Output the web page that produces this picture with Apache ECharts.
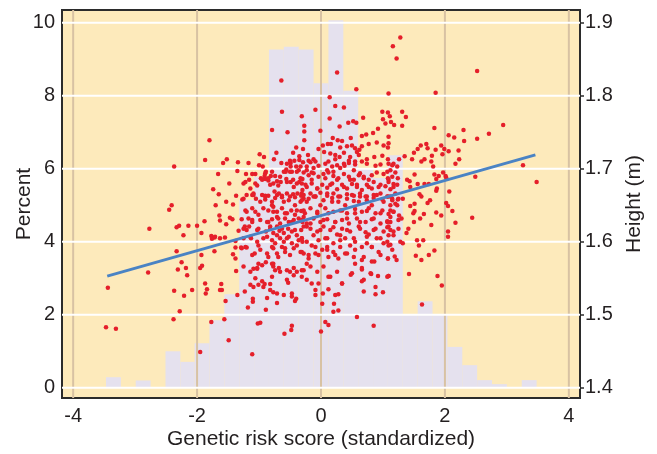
<!DOCTYPE html>
<html>
<head>
<meta charset="utf-8">
<script src="https://cdn.jsdelivr.net/npm/echarts@6/dist/echarts.min.js"></script>
<style>
  html, body { margin: 0; padding: 0; background: #fff; }
  #chart { width: 657px; height: 454px; }
</style>
</head>
<body>
<div id="chart"></div>
<script>
// histogram of the genetic risk score (left axis, percent)
var binEdges = [-3.47, -3.23, -2.99, -2.75, -2.51, -2.27, -2.04, -1.80, -1.56, -1.32, -1.08, -0.84, -0.60, -0.36, -0.12,
    0.12, 0.36, 0.60, 0.84, 1.08, 1.32, 1.56, 1.80, 2.04, 2.28, 2.52, 2.76, 3.00, 3.24, 3.48];
var binPercent = [0.29, 0, 0.2, 0, 1.0, 0.71, 1.22, 1.85, 2.56, 5.15, 5.78, 9.27, 9.34, 9.27, 8.34,
    10.07, 8.14, 6.0, 5.75, 6.37, 2.02, 2.37, 2.0, 1.12, 0.62, 0.21, 0.1, 0, 0.21];

// tick values
var xTicks = [-4, -2, 0, 2, 4];
var percentTicks = [0, 2, 4, 6, 8, 10];
var heightTicks = [1.4, 1.5, 1.6, 1.7, 1.8, 1.9];

// fitted line (risk score, height)
var fitX = [-3.45, 3.46];
var fitHeight = [1.553, 1.719];

// individuals: [risk score, height in m]
var points = [
    [-1.80,1.739],[-1.87,1.712],[-2.37,1.703],[-1.66,1.693],[-1.74,1.672],[-1.70,1.650],[-2.41,1.650],[-2.45,1.644],
    [-1.64,1.636],[-1.88,1.628],[-2.77,1.618],[-2.33,1.620],[-2.29,1.622],[-2.14,1.622],[-2.00,1.622],[-1.93,1.612],
    [-2.22,1.609],[-1.77,1.608],[-1.72,1.606],[-1.76,1.604],[-1.71,1.607],[-1.63,1.605],[-2.33,1.587],[-1.72,1.587],
    [-1.93,1.582],[-2.25,1.572],[-2.18,1.564],[-2.31,1.562],[-1.95,1.564],[-1.92,1.567],[-2.79,1.558],[-2.16,1.554],
    [-3.44,1.537],[-1.87,1.543],[-1.84,1.535],[-1.86,1.529],[-2.37,1.533],[-2.08,1.534],[-2.21,1.526],[-2.28,1.505],
    [-2.38,1.494],[-1.77,1.490],[-3.47,1.483],[-3.31,1.481],[-1.95,1.449],
    [-1.11,1.446],[-1.49,1.465],[-1.56,1.494],[-0.98,1.489],[-1.02,1.488],[-0.89,1.507],[-1.18,1.510],[-0.59,1.474],
    [-0.48,1.479],[0.00,1.477],[0.02,1.515],[-1.65,1.665],[-1.06,1.693],[-1.35,1.697],
    [-0.64,1.821],[-0.63,1.778],[-0.79,1.753],[-0.54,1.750],[-0.31,1.772],[-0.27,1.759],[-0.27,1.751],[-0.27,1.739],
    [-0.40,1.729],[-0.29,1.727],[-0.72,1.722],[-0.76,1.713],[-0.45,1.722],[-0.35,1.717],[-0.99,1.720],[-0.92,1.716],
    [-0.64,1.708],[-0.43,1.711],[-0.49,1.708],[-0.29,1.709],[-1.52,1.713],[-1.58,1.708],[-1.34,1.709],[-1.17,1.708],
    [-1.00,1.705],[-0.94,1.703],[-0.56,1.699],[-0.49,1.703],[-0.40,1.703],[-0.33,1.703],[-1.21,1.693],[-1.11,1.693],
    [-0.89,1.696],[-0.91,1.690],[-0.97,1.687],[-0.81,1.690],[-0.74,1.690],[-0.57,1.696],[-0.47,1.696],[-0.39,1.696],
    [-1.48,1.680],[-1.25,1.680],[-1.16,1.685],[-1.03,1.677],[-0.90,1.686],[-0.85,1.684],[-0.82,1.678],[-0.71,1.683],
    [-0.69,1.677],[-0.65,1.682],[-0.56,1.686],[-0.49,1.682],[-0.45,1.685],[-0.39,1.680],[-0.35,1.682],[-0.30,1.686],
    [-1.11,1.664],[-1.09,1.664],[-1.37,1.663],[-0.90,1.663],[-0.85,1.663],[-0.75,1.669],[-0.68,1.666],[-0.63,1.663],
    [-0.55,1.666],[-0.45,1.665],[-0.38,1.666],[-0.30,1.671],[-0.32,1.663],
    [-1.53,1.655],[-1.42,1.651],[-1.63,1.629],[-1.47,1.633],[-1.43,1.631],[-1.53,1.624],[-1.33,1.615],[-1.55,1.606],
    [-1.38,1.601],[-1.38,1.592],[-1.29,1.592],[-1.42,1.583],[-1.38,1.577],[-1.61,1.542],[-1.60,1.534],[-1.63,1.534],
    [-1.37,1.560],[-1.35,1.527],[-1.54,1.519],[-0.47,1.485],
    [-1.27,1.658],[-1.20,1.664],[-1.05,1.659],[-0.95,1.664],[-0.90,1.658],[-0.79,1.655],[-0.74,1.660],[-0.63,1.661],
    [-0.52,1.657],[-0.42,1.661],[-0.33,1.655],[-0.28,1.659],
    [-1.22,1.643],[-1.11,1.646],[-1.06,1.641],[-0.93,1.646],[-0.85,1.643],[-0.77,1.648],[-0.71,1.641],[-0.63,1.646],
    [-0.55,1.639],[-0.48,1.643],[-0.42,1.637],[-0.32,1.642],[-0.26,1.639],
    [-1.28,1.631],[-1.17,1.632],[-1.11,1.627],[-0.98,1.630],[-0.85,1.627],[-0.79,1.631],[-0.71,1.634],[-0.66,1.625],
    [-0.58,1.632],[-0.52,1.627],[-0.44,1.630],[-0.36,1.632],[-0.30,1.627],
    [-1.23,1.621],[-1.16,1.621],[-1.20,1.616],[-1.01,1.618],[-0.89,1.614],[-0.82,1.618],[-0.77,1.612],[-0.71,1.621],
    [-0.67,1.615],[-0.60,1.612],[-0.53,1.618],[-0.47,1.614],[-0.39,1.609],[-0.32,1.616],
    [-1.25,1.605],[-1.13,1.605],[-1.03,1.600],[-0.87,1.607],[-0.79,1.602],[-0.74,1.598],[-0.66,1.605],[-0.60,1.600],
    [-0.55,1.605],[-0.47,1.598],[-0.36,1.602],[-0.30,1.600],
    [-1.28,1.591],[-1.20,1.592],[-1.07,1.584],[-0.98,1.589],[-0.85,1.579],[-0.77,1.591],[-0.71,1.584],[-0.63,1.593],
    [-0.58,1.586],[-0.44,1.591],[-0.33,1.586],
    [-1.01,1.570],[-0.95,1.568],[-0.89,1.572],[-0.79,1.570],[-0.77,1.566],[-0.74,1.561],[-0.68,1.564],[-1.09,1.563],
    [-1.03,1.563],[-0.55,1.561],[-0.50,1.559],[-0.44,1.554],[-0.39,1.559],[-0.31,1.561],
    [-1.14,1.541],[-1.09,1.538],[-1.01,1.541],[-0.95,1.546],[-0.91,1.542],[-0.82,1.542],[-0.82,1.534],[-0.77,1.531],
    [-0.71,1.529],[-0.60,1.527],[-0.53,1.544],[-0.47,1.529],[-0.40,1.522],[-0.47,1.525],[-0.87,1.523],[-1.10,1.522],
    [-1.10,1.518],[-1.23,1.532],[-0.71,1.516],[-0.42,1.519],
    [0.26,1.832],[0.57,1.809],[1.09,1.803],[0.14,1.798],[-0.09,1.781],[0.23,1.786],[0.37,1.784],[0.14,1.769],
    [0.30,1.758],[0.44,1.763],[0.52,1.765],[-0.01,1.752],[0.19,1.742],[0.27,1.739],[0.34,1.738],[0.48,1.742],
    [0.68,1.770],[0.99,1.778],[1.00,1.768],[1.08,1.777],[0.92,1.755],[0.84,1.749],[1.09,1.744],[0.66,1.745],
    [0.73,1.747],[-0.21,1.719],[-0.04,1.727],[0.03,1.732],[0.11,1.734],[0.16,1.734],[0.31,1.729],[0.42,1.731],
    [0.50,1.732],[0.55,1.728],[0.66,1.731],[0.58,1.723],[0.77,1.734],[0.90,1.736],[1.01,1.732],[1.09,1.735],
    [0.05,1.723],[0.15,1.721],[0.23,1.719],[0.30,1.716],[0.37,1.722],[-0.12,1.713],[0.47,1.716],[0.61,1.719],
    [0.62,1.726],[0.74,1.713],[0.86,1.716],[0.99,1.718],[1.08,1.713],[0.07,1.707],[0.18,1.703],[0.26,1.705],
    [0.38,1.704],[0.45,1.708],[0.55,1.706],[0.66,1.710],[0.74,1.707],[0.88,1.704],[0.96,1.706],[1.09,1.707],
    [-0.23,1.703],[-0.12,1.701],[-0.04,1.704],[0.57,1.763],[-0.17,1.709],
    [-0.28,1.695],[-0.20,1.691],[-0.12,1.694],[-0.04,1.689],[0.04,1.693],[0.12,1.695],[0.20,1.690],[0.28,1.687],
    [0.37,1.693],[0.45,1.689],[0.53,1.685],[0.61,1.691],[0.69,1.689],[0.77,1.685],[0.82,1.691],[0.90,1.695],
    [1.01,1.693],[1.08,1.687],
    [-0.31,1.680],[-0.23,1.675],[-0.15,1.680],[-0.06,1.673],[0.02,1.678],[0.10,1.674],[0.18,1.680],[0.26,1.672],
    [0.34,1.678],[0.42,1.673],[0.50,1.679],[0.58,1.675],[0.66,1.671],[0.74,1.678],[0.82,1.673],[0.93,1.675],
    [1.04,1.676],
    [-0.28,1.664],[-0.17,1.666],[-0.09,1.662],[-0.01,1.667],[0.10,1.663],[0.20,1.666],[0.31,1.662],[0.42,1.665],
    [0.53,1.663],[0.63,1.666],[0.74,1.662],[0.85,1.664],[0.96,1.666],
    [-0.31,1.657],[-0.20,1.659],[-0.09,1.662],[0.04,1.657],[0.18,1.660],[0.28,1.655],[0.42,1.659],[0.53,1.656],
    [0.63,1.662],[0.74,1.657],[0.85,1.660],[0.99,1.658],[1.08,1.662],
    [-0.28,1.643],[-0.17,1.646],[-0.06,1.639],[0.07,1.646],[0.20,1.641],[0.31,1.643],[0.42,1.639],[0.55,1.645],
    [0.66,1.641],[0.77,1.646],[0.88,1.639],[0.99,1.643],[1.09,1.638],
    [-0.31,1.630],[-0.23,1.625],[-0.12,1.632],[-0.01,1.627],[0.10,1.631],[0.23,1.627],[0.34,1.630],[0.45,1.625],
    [0.58,1.632],[0.72,1.627],[0.82,1.631],[0.96,1.625],[1.07,1.628],
    [-0.28,1.621],[-0.17,1.618],[-0.06,1.614],[0.04,1.621],[0.15,1.616],[0.26,1.610],[0.34,1.618],[0.47,1.614],
    [0.61,1.621],[0.72,1.613],[0.77,1.610],[0.88,1.618],[1.01,1.614],[1.09,1.609],
    [-0.31,1.605],[-0.23,1.600],[-0.15,1.595],[-0.04,1.602],[0.07,1.605],[0.10,1.593],[0.20,1.598],[0.31,1.602],
    [0.39,1.605],[0.47,1.595],[0.55,1.600],[0.66,1.593],[0.74,1.598],[0.82,1.593],[0.90,1.605],[1.01,1.598],
    [1.09,1.595],
    [-0.31,1.586],[-0.20,1.582],[-0.09,1.584],[0.02,1.589],[0.12,1.579],[0.20,1.586],[0.28,1.577],[0.39,1.584],
    [0.53,1.579],[0.55,1.570],[0.66,1.575],[0.82,1.573],[0.93,1.586],[1.08,1.577],
    [-0.28,1.561],[-0.17,1.566],[-0.06,1.559],[-0.23,1.548],[-0.04,1.543],[0.15,1.552],[0.34,1.543],[0.48,1.555],
    [0.66,1.562],[0.81,1.556],[0.92,1.553],[0.86,1.573],[1.09,1.553],
    [-0.09,1.534],[-0.09,1.527],[0.03,1.529],[0.12,1.535],[0.23,1.527],[0.28,1.528],[0.69,1.548],[0.66,1.546],
    [0.69,1.532],[0.88,1.528],[1.00,1.531],[0.21,1.515],[0.28,1.506],[0.20,1.504],
    [0.58,1.497],[0.85,1.485],[0.07,1.490],[0.12,1.486],
    [1.28,1.880],[1.16,1.868],[1.22,1.851],[2.52,1.834],[1.85,1.804],[1.31,1.778],[1.37,1.771],[1.11,1.772],
    [1.13,1.764],[1.18,1.760],[1.04,1.762],[1.31,1.759],[1.83,1.756],[2.30,1.753],[2.94,1.760],[2.71,1.748],
    [2.52,1.741],[2.06,1.746],[2.15,1.743],[2.31,1.738],[1.08,1.729],[1.61,1.732],[1.70,1.734],[1.72,1.728],
    [1.56,1.727],[1.50,1.722],[1.94,1.732],[1.99,1.727],[2.22,1.725],[1.35,1.717],[1.67,1.713],[1.62,1.710],
    [1.79,1.718],[1.78,1.710],[1.47,1.713],[1.26,1.713],[2.23,1.713],[2.17,1.707],[1.81,1.703],[3.26,1.705],
    [3.48,1.682],[2.49,1.689],[1.51,1.692],[1.83,1.692],[1.97,1.695],[2.01,1.690],[2.02,1.688],[1.90,1.690],
    [1.86,1.686],[1.39,1.685],[1.56,1.679],[1.67,1.679],[1.74,1.679],[1.87,1.673],[1.86,1.670],[2.07,1.669],
    [1.59,1.665],[1.62,1.662],
    [1.17,1.707],[1.23,1.703],[1.12,1.698],[1.20,1.695],[1.15,1.689],[1.24,1.687],[1.09,1.682],[1.17,1.679],
    [1.23,1.678],[1.12,1.672],[1.20,1.666],[1.07,1.662],[1.15,1.659],[1.25,1.659],
    [1.85,1.726],[2.06,1.724],[1.96,1.720],[1.43,1.683],[1.44,1.675],[2.02,1.653],
    [1.44,1.649],[1.51,1.652],[1.51,1.642],[1.49,1.639],[1.60,1.632],[1.66,1.638],[1.72,1.653],[1.76,1.657],
    [1.86,1.640],[1.94,1.636],[2.05,1.649],[2.12,1.642],[2.44,1.633],[2.17,1.626],[1.78,1.623],[1.50,1.627],
    [1.41,1.618],[1.38,1.612],[2.05,1.614],[2.05,1.607],[1.55,1.602],[1.65,1.602],[1.58,1.595],[1.83,1.588],
    [1.74,1.582],[1.53,1.581],[1.62,1.575],[1.42,1.556],[1.88,1.553],[1.95,1.540],[1.63,1.514],
    [1.15,1.657],[1.24,1.658],[1.32,1.659],[1.12,1.650],[1.20,1.652],[1.12,1.643],[1.17,1.641],[1.26,1.636],
    [1.30,1.632],[1.12,1.634],[1.12,1.627],[1.09,1.621],[1.17,1.614],[1.12,1.616],[1.07,1.600],[1.12,1.596],
    [1.28,1.600],[1.32,1.598],[1.19,1.580],[1.08,1.577],[1.22,1.575],[1.09,1.553],
    // dense core, second reading
    [-0.55,1.707],[-0.50,1.711],[-0.35,1.712],[-0.20,1.711],[-0.09,1.710],[0.12,1.710],[0.23,1.713],[0.37,1.707],
    [0.45,1.711],[0.55,1.710],[-0.60,1.696],[-0.50,1.696],[-0.36,1.698],[-0.23,1.698],[-0.15,1.695],[0.10,1.698],
    [0.20,1.696],[0.31,1.701],[0.53,1.698],[0.63,1.694],[-0.79,1.696],[-0.90,1.694],[1.15,1.705],[1.07,1.696],
    [-1.06,1.680],[-0.95,1.685],[-0.85,1.687],[-0.77,1.680],[-0.66,1.689],[-0.55,1.682],[-0.44,1.675],[-0.33,1.687],
    [-0.25,1.678],[-0.15,1.685],[-0.06,1.673],[0.07,1.687],[0.15,1.678],[0.26,1.685],[0.37,1.675],[0.47,1.685],
    [0.58,1.678],[0.69,1.687],[0.77,1.675],[0.85,1.682],[0.96,1.678],[1.09,1.685],[1.17,1.675],[-1.22,1.682],
    [-1.14,1.673],
    [-1.25,1.659],[-1.09,1.666],[-0.98,1.655],[-0.90,1.662],[-0.79,1.650],[-0.71,1.664],[-0.60,1.655],[-0.50,1.662],
    [-0.42,1.650],[-0.31,1.666],[-0.23,1.655],[-0.12,1.662],[-0.01,1.650],[0.10,1.666],[0.18,1.655],[0.28,1.662],
    [0.39,1.650],[0.50,1.664],[0.61,1.655],[0.72,1.662],[0.82,1.650],[0.90,1.664],[1.01,1.655],[1.12,1.662],
    [1.23,1.650],
    [-1.20,1.641],[-1.11,1.630],[-1.01,1.637],[-0.87,1.627],[-0.77,1.641],[-0.69,1.632],[-0.58,1.639],[-0.47,1.627],
    [-0.39,1.643],[-0.28,1.634],[-0.17,1.625],[-0.06,1.641],[0.04,1.630],[0.12,1.639],[0.23,1.627],[0.34,1.643],
    [0.42,1.632],[0.55,1.639],[0.63,1.627],[0.74,1.642],[0.85,1.632],[0.96,1.639],[1.07,1.627],[1.17,1.641],
    [1.25,1.630],
    [-1.25,1.618],[-1.14,1.607],[-1.03,1.616],[-0.93,1.605],[-0.82,1.621],[-0.71,1.609],[-0.63,1.618],[-0.52,1.607],
    [-0.42,1.616],[-0.31,1.605],[-0.23,1.621],[-0.12,1.609],[-0.01,1.616],[0.10,1.605],[0.20,1.620],[0.31,1.609],
    [0.42,1.616],[0.53,1.605],[0.63,1.618],[0.74,1.607],[0.85,1.616],[0.96,1.605],[1.07,1.620],[1.17,1.609],
    [1.25,1.618],
    [-1.22,1.593],[-1.11,1.582],[-1.01,1.595],[-0.87,1.584],[-0.79,1.593],[-0.69,1.579],[-0.58,1.591],[-0.50,1.582],
    [-0.39,1.595],[-0.28,1.584],[-0.20,1.577],[-0.09,1.593],[-0.04,1.582],[0.10,1.589],[0.23,1.582],[0.31,1.593],
    [0.42,1.584],[0.55,1.589],[0.69,1.579],[0.82,1.593],[0.96,1.582],[1.15,1.589],
    [-1.25,1.566],[-1.14,1.559],[-1.03,1.564],[-1.06,1.550],[-0.93,1.538],[-0.77,1.570],[-0.79,1.552],[-0.66,1.559],
    [-0.55,1.548],[-0.44,1.564],[-0.31,1.552],[-0.23,1.570],[-0.15,1.543],[0.04,1.566],[0.12,1.552],[0.26,1.559],
    [0.34,1.543],[0.50,1.557],[0.66,1.564],[0.80,1.557],[0.88,1.538],[1.07,1.552]
];

var chart = echarts.init(document.getElementById('chart'), null, { renderer: 'canvas' });

var FONT = 'Liberation Sans, Arial, Helvetica, sans-serif';
var TEXT = '#231f20';

// histogram rows: [start, end, percent]
var histData = [];
for (var i = 0; i < binPercent.length; i++) {
    if (binPercent[i] > 0) histData.push([binEdges[i], binEdges[i + 1], binPercent[i]]);
}

var fitData = fitX.map(function (x, i) { return [x, fitHeight[i]]; });

var option = {
    animation: false,
    grid: {
        left: 62, right: 77, top: 10, bottom: 56,
        outerBoundsMode: 'none',
        containLabel: false,
        show: true,
        backgroundColor: '#fdeabb',
        borderColor: '#2b2b2b',
        borderWidth: 2
    },
    xAxis: {
        type: 'value',
        min: -4.18, max: 4.18,
        name: 'Genetic risk score (standardized)',
        nameLocation: 'middle',
        nameGap: 31,
        nameMoveOverlap: false,
        nameTextStyle: { fontSize: 21, color: TEXT, fontFamily: FONT },
        axisLine: { show: false },
        axisTick: { show: false },
        splitLine: { show: false },
        axisLabel: {
            customValues: xTicks,
            fontSize: 20, color: TEXT, fontFamily: FONT, margin: 8
        }
    },
    yAxis: [{
        type: 'value',
        position: 'left',
        min: -0.28, max: 10.35,
        name: 'Percent',
        nameLocation: 'middle',
        nameGap: 27,
        nameRotate: 90,
        nameMoveOverlap: false,
        nameTextStyle: { fontSize: 21, color: TEXT, fontFamily: FONT },
        axisLine: { show: false },
        axisTick: { show: false },
        splitLine: { show: false },
        axisLabel: {
            customValues: percentTicks,
            fontSize: 20, color: TEXT, fontFamily: FONT, margin: 7
        }
    }, {
        type: 'value',
        position: 'right',
        min: 1.386, max: 1.9175,
        name: 'Height (m)',
        nameLocation: 'middle',
        nameGap: 44,
        nameRotate: 90,
        nameMoveOverlap: false,
        nameTextStyle: { fontSize: 21, color: TEXT, fontFamily: FONT },
        axisLine: { show: false },
        axisTick: {
            show: true, customValues: heightTicks, length: 4,
            lineStyle: { color: '#2b2b2b', width: 1.5 }
        },
        splitLine: { show: false },
        axisLabel: {
            customValues: heightTicks,
            formatter: function (v) { return v.toFixed(1); },
            fontSize: 20, color: TEXT, fontFamily: FONT, margin: 5
        }
    }],
    series: [{
        // histogram bars
        type: 'custom',
        yAxisIndex: 0,
        z: 1,
        silent: true,
        data: histData,
        encode: { x: [0, 1], y: 2 },
        renderItem: function (params, api) {
            var p0 = api.coord([api.value(0), 0]);
            var p1 = api.coord([api.value(1), api.value(2)]);
            return {
                type: 'rect',
                shape: { x: p0[0], y: p1[1], width: p1[0] - p0[0], height: p0[1] - p1[1] },
                style: { fill: '#e5e1ee' }
            };
        }
    }, {
        // vertical grid lines
        type: 'custom',
        yAxisIndex: 0,
        z: 2,
        silent: true,
        data: xTicks.map(function (v) { return [v, 0]; }),
        renderItem: function (params, api) {
            var cs = params.coordSys;
            var px = api.coord([api.value(0), 0])[0];
            return {
                type: 'line',
                shape: { x1: px, y1: cs.y, x2: px, y2: cs.y + cs.height },
                style: { stroke: '#d8c2a3', lineWidth: 2 }
            };
        }
    }, {
        // horizontal grid lines
        type: 'custom',
        yAxisIndex: 0,
        z: 2,
        silent: true,
        data: percentTicks.map(function (v) { return [0, v]; }),
        renderItem: function (params, api) {
            var cs = params.coordSys;
            var py = api.coord([0, api.value(1)])[1];
            return {
                type: 'line',
                shape: { x1: cs.x, y1: py, x2: cs.x + cs.width, y2: py },
                style: { stroke: '#ffffff', lineWidth: 2 }
            };
        }
    }, {
        type: 'scatter',
        yAxisIndex: 1,
        z: 3,
        symbolSize: 4.5,
        itemStyle: { color: '#e51f2a', opacity: 1 },
        data: points
    }, {
        type: 'line',
        yAxisIndex: 1,
        z: 4,
        symbol: 'none',
        lineStyle: { color: '#4a83c4', width: 3 },
        data: fitData
    }]
};

chart.setOption(option);
</script>
</body>
</html>
